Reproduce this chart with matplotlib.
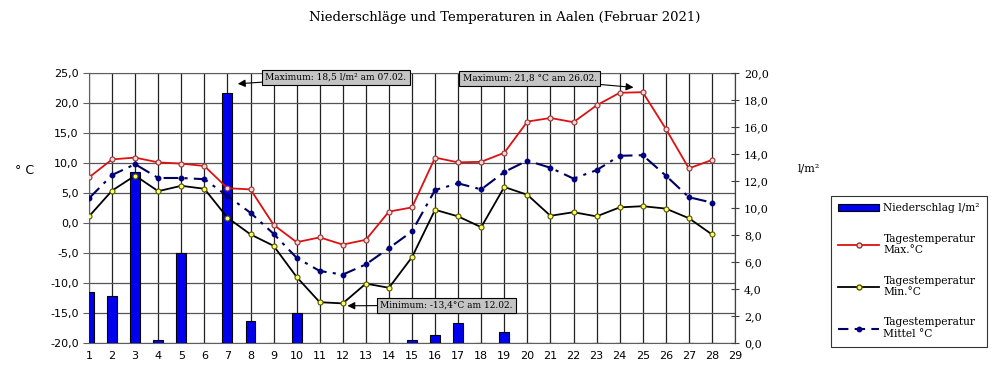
"""
Niederschläge und Temperaturen in Aalen, Februar 2021:
daily precipitation as bars (right axis) with max / min / mean temperature lines (left axis).
"""

import matplotlib.pyplot as plt
from matplotlib.lines import Line2D
from matplotlib.patches import Patch
from matplotlib.ticker import FuncFormatter, MultipleLocator

days = list(range(1, 29))
precip = [3.8, 3.5, 12.7, 0.2, 6.7, 0.0, 18.5, 1.6, 0.0, 2.2, 0.0, 0.0, 0.0, 0.0,
          0.2, 0.6, 1.5, 0.0, 0.8, 0.0, 0.0, 0.0, 0.0, 0.0, 0.0, 0.0, 0.0, 0.0]
t_max = [7.6, 10.6, 10.9, 10.1, 9.9, 9.5, 5.8, 5.6, -0.3, -3.2, -2.4, -3.6, -2.8, 1.9,
         2.6, 10.9, 10.1, 10.2, 11.7, 16.9, 17.5, 16.8, 19.6, 21.7, 21.8, 15.7, 9.1, 10.5]
t_min = [1.1, 5.4, 7.9, 5.3, 6.2, 5.7, 0.9, -1.9, -3.8, -9.0, -13.2, -13.4, -10.1, -10.8,
         -5.7, 2.2, 1.1, -0.7, 6.0, 4.7, 1.2, 1.8, 1.1, 2.6, 2.8, 2.4, 0.8, -1.9]
t_mean = [4.1, 8.0, 9.8, 7.5, 7.5, 7.3, 4.5, 1.7, -1.8, -5.8, -8.0, -8.6, -6.9, -4.2,
          -1.4, 5.5, 6.6, 5.6, 8.5, 10.4, 9.2, 7.4, 8.8, 11.2, 11.3, 7.9, 4.3, 3.4]
x_ticks = list(range(1, 30))

SERIF = "DejaVu Serif"
SANS = "DejaVu Sans"
comma = FuncFormatter(lambda v, _: f"{v:.1f}".replace(".", ","))

fig = plt.figure(figsize=(10, 3.87), dpi=100)
fig.patch.set_facecolor("white")
rect = [0.089, 0.1137, 0.646, 0.6977]

# bottom: temperature grid; middle: precipitation bars; top: temperature lines
ax = fig.add_axes(rect)
ax_p = ax.twinx()
ax_t = ax.twinx()
ax.set_zorder(1)
ax_p.set_zorder(2)
ax_t.set_zorder(3)
ax_p.patch.set_visible(False)
ax_t.patch.set_visible(False)

ax.set_xlim(1, 29)
ax.set_ylim(-20, 25)
ax_t.set_ylim(-20, 25)
ax_p.set_ylim(0, 20)

ax.yaxis.set_major_locator(MultipleLocator(5))
ax.yaxis.set_major_formatter(comma)
ax_p.yaxis.set_major_locator(MultipleLocator(2))
ax_p.yaxis.set_major_formatter(comma)
ax.set_xticks(x_ticks)
ax.set_xticklabels([str(d) for d in x_ticks], fontfamily=SANS, fontsize=8)
ax.tick_params(axis="x", length=0, pad=6)
ax.tick_params(axis="y", labelsize=8, length=4, direction="out", color="#606060")
for lab in ax.get_yticklabels():
    lab.set_fontfamily(SANS)
ax_p.tick_params(axis="y", labelsize=8, length=6, direction="inout", color="#404040")
for lab in ax_p.get_yticklabels():
    lab.set_fontfamily(SERIF)
ax_t.tick_params(axis="y", right=False, labelright=False)

ax.set_axisbelow(True)
ax.grid(axis="x", color="#222222", lw=0.9)
ax.grid(axis="y", color="#555555", lw=0.9)
for a in (ax_p, ax_t):
    for s in a.spines.values():
        s.set_visible(False)
ax_p.spines["right"].set_visible(True)
ax_p.spines["right"].set_color("#404040")
for s in ax.spines.values():
    s.set_color("#606060")

ax_p.bar(days, precip, width=0.43, color="#0000ee", edgecolor="black", lw=0.8)

ax_t.plot(days, t_max, color="#dd1111", lw=1.3, marker="o", ms=3.6,
          mfc="#f3d6d6", mec="#993333", mew=0.8)
ax_t.plot(days, t_min, color="black", lw=1.3, marker="o", ms=3.6,
          mfc="#ffff66", mec="#555500", mew=0.8)
ax_t.plot(days, t_mean, color="#000060", lw=1.5, dashes=(7, 3, 1.5, 3),
          marker="o", ms=3.2, mfc="#000080", mec="#000080")

box = dict(boxstyle="square,pad=0.35", fc="#c4c4c4", ec="black", lw=0.8)
arrow = dict(arrowstyle="-|>", color="black", lw=0.8, mutation_scale=11, shrinkA=0, shrinkB=0)
ax_t.annotate("Maximum: 18,5 l/m² am 07.02.", xy=(7.45, 23.2), xytext=(11.7, 24.3),
              fontsize=6.5, fontfamily=SERIF, ha="center", va="center", bbox=box, arrowprops=arrow)
ax_t.annotate("Maximum: 21,8 °C am 26.02.", xy=(24.6, 22.6), xytext=(20.1, 24.1),
              fontsize=6.5, fontfamily=SERIF, ha="center", va="center", bbox=box, arrowprops=arrow)
ax_t.annotate("Minimum: -13,4°C am 12.02.", xy=(12.2, -13.8), xytext=(16.5, -13.7),
              fontsize=6.5, fontfamily=SERIF, ha="center", va="center", bbox=box, arrowprops=arrow)

fig.text(0.505, 0.955, "Niederschläge und Temperaturen in Aalen (Februar 2021)",
         ha="center", va="center", fontsize=9.5, fontfamily=SERIF)
fig.text(0.025, 0.56, "° C", ha="center", va="center", fontsize=9, fontfamily=SANS)
fig.text(0.809, 0.565, "l/m²", ha="center", va="center", fontsize=8, fontfamily=SERIF)

handles = [
    Patch(facecolor="#0000ee", edgecolor="black", lw=0.8),
    Line2D([], [], color="#dd1111", lw=1.3, marker="o", ms=3.6, mfc="#f3d6d6", mec="#993333"),
    Line2D([], [], color="black", lw=1.3, marker="o", ms=3.6, mfc="#ffff66", mec="#555500"),
    Line2D([], [], color="#000060", lw=1.5, dashes=(5, 3), marker="o", ms=3.2,
           mfc="#000080", mec="#000080"),
]
labels = ["Niederschlag l/m²", "Tagestemperatur\nMax.°C", "Tagestemperatur\nMin.°C",
          "Tagestemperatur\nMittel °C"]
leg = fig.legend(handles, labels, loc="upper left", bbox_to_anchor=(0.831, 0.494),
                 borderaxespad=0, prop={"family": SERIF, "size": 7.7}, frameon=True,
                 fancybox=False, edgecolor="black", handlelength=3.8, handleheight=0.6,
                 handletextpad=0.4, labelspacing=1.9, borderpad=0.7)
leg.get_frame().set_linewidth(0.8)

fig.savefig("out.png", dpi=100)
